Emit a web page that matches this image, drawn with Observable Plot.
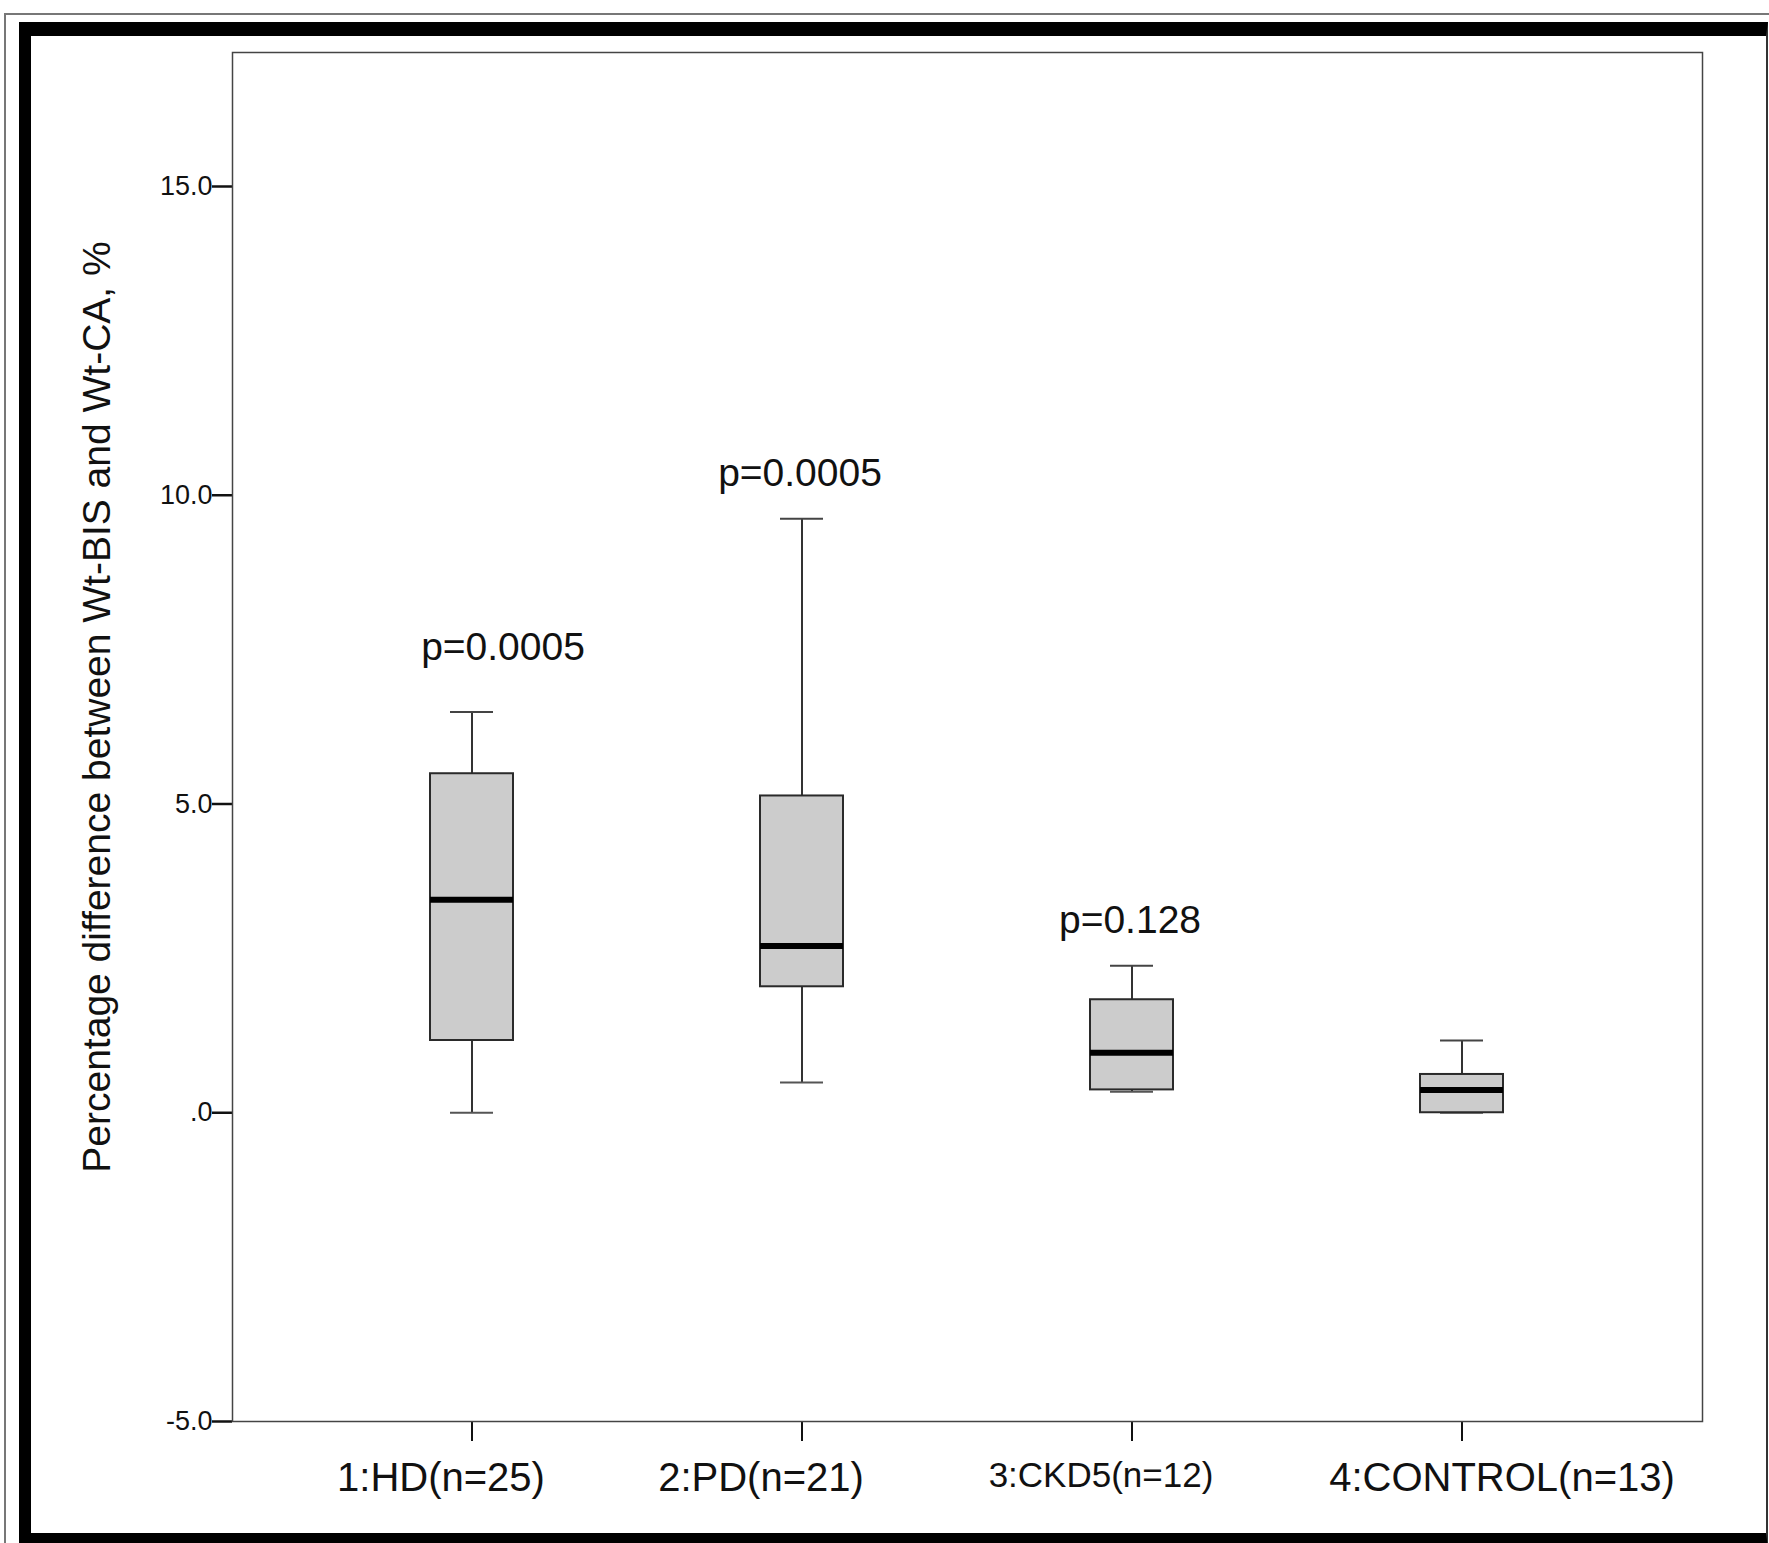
<!DOCTYPE html>
<html>
<head>
<meta charset="utf-8">
<script src="https://cdn.jsdelivr.net/npm/d3@7"></script>
<script src="https://cdn.jsdelivr.net/npm/@observablehq/plot@0.6"></script>
<style>
  html, body { margin: 0; padding: 0; background: #fff; }
  #wrap { position: relative; width: 1769px; height: 1543px; overflow: hidden; background: #fff; }
  #chart { position: absolute; left: 0; top: 0; }
  .bd { position: absolute; box-sizing: border-box; pointer-events: none; }
  #outer { left: 4px; top: 13px; width: 3000px; height: 3000px; border-top: 2px solid #777; border-left: 2px solid #777; }
  #thick { left: 19px; top: 22px; width: 1749px; height: 1526px;
           border-left: 12px solid #000; border-top: 14px solid #000;
           border-bottom: 15px solid #000; border-right: 2px solid #333; }
</style>
</head>
<body>
<div id="wrap">
  <div id="chart"></div>
  <div class="bd" id="outer"></div>
  <div class="bd" id="thick"></div>
</div>
<script>
// ---- data ----
const groups  = ["1:HD(n=25)", "2:PD(n=21)", "3:CKD5(n=12)", "4:CONTROL(n=13)"];
const mins    = [0.00, 0.49, 0.34, 0.00];
const q1s     = [1.17, 2.04, 0.37, 0.00];
const medians = [3.45, 2.70, 0.97, 0.37];
const q3s     = [5.49, 5.13, 1.83, 0.62];
const maxs    = [6.49, 9.62, 2.38, 1.17];

const pGroups = ["1:HD(n=25)", "2:PD(n=21)", "3:CKD5(n=12)"];
const pLabels = ["p=0.0005", "p=0.0005", "p=0.128"];
const pLabelY = [7.53, 10.36, 3.11];

const yTicks = [-5, 0, 5, 10, 15];
const yLabel = "Percentage difference between Wt-BIS and Wt-CA, %";

// ---- tables built from the arrays ----
const stats = groups.map((g, i) => ({group: g, min: mins[i], q1: q1s[i], median: medians[i], q3: q3s[i], max: maxs[i]}));
const pData = pGroups.map((g, i) => ({group: g, label: pLabels[i], y: pLabelY[i]}));

const FONT = "'Liberation Sans', Arial, Helvetica, sans-serif";
const boxInset = 50, capInset = 70;

// styling: horizontal offsets / sizes of the category labels as drawn in the reference
const labelStyle = [
  {dx: -31, fontSize: 40},
  {dx: -41, fontSize: 40},
  {dx: -31, fontSize: 35},
  {dx: 40,  fontSize: 40}
];
const groupLabelMarks = groups.map((g, i) =>
  Plot.text([g], {x: d => d, text: d => d, frameAnchor: "bottom", lineAnchor: "top",
                  dy: 41, dx: labelStyle[i].dx, fontSize: labelStyle[i].fontSize, fill: "#111"})
);

const plot = Plot.plot({
  width: 1769,
  height: 1543,
  marginLeft: 232,
  marginRight: 67,
  marginTop: 52,
  marginBottom: 122,
  style: {background: "transparent", fontFamily: FONT, color: "#111", overflow: "visible"},
  x: {type: "band", domain: groups, padding: 0.445, label: null},
  y: {domain: [-5, 17.17], label: null},
  marks: [
    // whiskers
    Plot.ruleX(stats, {x: "group", y1: "q3", y2: "max", stroke: "#333", strokeWidth: 2}),
    Plot.ruleX(stats, {x: "group", y1: "min", y2: "q1", stroke: "#333", strokeWidth: 2}),
    Plot.tickY(stats, {x: "group", y: "max", stroke: "#444", strokeWidth: 2, insetLeft: capInset, insetRight: capInset}),
    Plot.tickY(stats, {x: "group", y: "min", stroke: "#555", strokeWidth: 2, insetLeft: capInset, insetRight: capInset}),
    // boxes
    Plot.barY(stats, {x: "group", y1: "q1", y2: "q3", fill: "#cccccc", stroke: "#2a2a2a", strokeWidth: 2, insetLeft: boxInset, insetRight: boxInset}),
    // medians
    Plot.tickY(stats, {x: "group", y: "median", stroke: "#000", strokeWidth: 6, insetLeft: boxInset, insetRight: boxInset}),
    // p-value annotations
    Plot.text(pData.filter((d, i) => i === 0), {x: "group", y: "y", text: "label", fontSize: 39, fill: "#111", dx: 31}),
    Plot.text(pData.filter((d, i) => i > 0), {x: "group", y: "y", text: "label", fontSize: 39, fill: "#111", dx: -2}),
    // axes
    Plot.axisY({ticks: yTicks, tickSize: 20, tickPadding: 0, fontSize: 27, strokeWidth: 2.5,
                tickFormat: d => d === 0 ? ".0" : d.toFixed(1), label: null}),
    Plot.axisX({tickSize: 20, strokeWidth: 2, tickFormat: () => "", label: null}),
    ...groupLabelMarks,
    // y-axis title
    Plot.text([yLabel], {frameAnchor: "left", textAnchor: "middle", lineAnchor: "middle", text: d => d,
                         rotate: -90, fontSize: 39, fill: "#111", dx: -135, dy: -30}),
    Plot.frame({stroke: "#444", strokeWidth: 1.5})
  ]
});

document.getElementById("chart").appendChild(plot);
</script>
</body>
</html>
